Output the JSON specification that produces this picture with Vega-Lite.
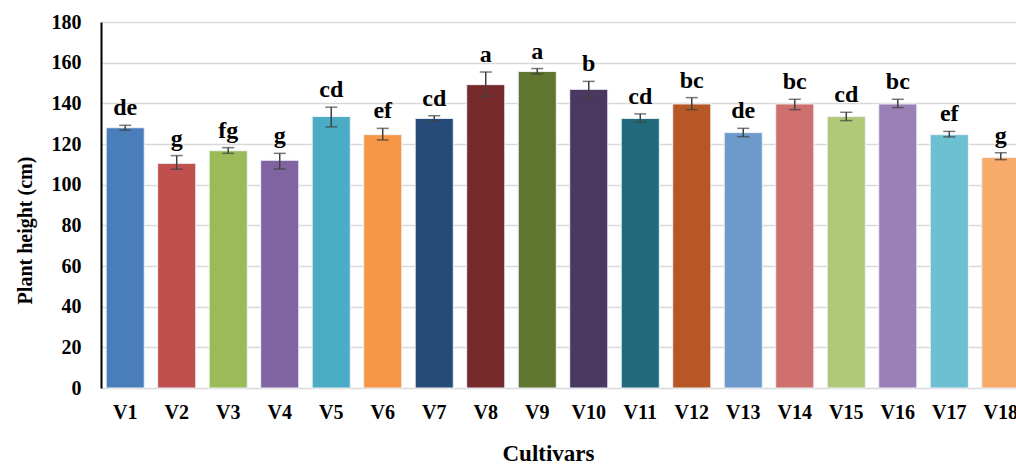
{
  "$schema": "https://vega.github.io/schema/vega-lite/v6.json",
  "autosize": {"type": "none"},
  "padding": {"left": 101, "top": 22, "right": 0, "bottom": 79},
  "width": 924,
  "height": 366,
  "background": "white",
  "config": {
    "view": {"stroke": null},
    "font": "Liberation Serif"
  },
  "data": {
    "values": [
      {"cultivar": "V1", "mean": 128.0, "lo": 126.8, "hi": 129.2, "group": "de"},
      {"cultivar": "V2", "mean": 110.5, "lo": 107.6, "hi": 114.3, "group": "g"},
      {"cultivar": "V3", "mean": 116.7, "lo": 115.4, "hi": 118.2, "group": "fg"},
      {"cultivar": "V4", "mean": 112.0, "lo": 107.7, "hi": 115.4, "group": "g"},
      {"cultivar": "V5", "mean": 133.5, "lo": 128.4, "hi": 138.1, "group": "cd"},
      {"cultivar": "V6", "mean": 124.6, "lo": 122.0, "hi": 127.7, "group": "ef"},
      {"cultivar": "V7", "mean": 132.6, "lo": 131.5, "hi": 133.9, "group": "cd"},
      {"cultivar": "V8", "mean": 149.2, "lo": 143.5, "hi": 155.4, "group": "a"},
      {"cultivar": "V9", "mean": 155.7, "lo": 154.4, "hi": 157.1, "group": "a"},
      {"cultivar": "V10", "mean": 146.9, "lo": 142.6, "hi": 150.8, "group": "b"},
      {"cultivar": "V11", "mean": 132.6, "lo": 130.7, "hi": 134.8, "group": "cd"},
      {"cultivar": "V12", "mean": 139.7, "lo": 136.9, "hi": 142.8, "group": "bc"},
      {"cultivar": "V13", "mean": 125.6, "lo": 123.6, "hi": 127.7, "group": "de"},
      {"cultivar": "V14", "mean": 139.7, "lo": 136.9, "hi": 142.0, "group": "bc"},
      {"cultivar": "V15", "mean": 133.5, "lo": 131.5, "hi": 135.6, "group": "cd"},
      {"cultivar": "V16", "mean": 139.7, "lo": 137.9, "hi": 142.0, "group": "bc"},
      {"cultivar": "V17", "mean": 124.6, "lo": 123.5, "hi": 126.2, "group": "ef"},
      {"cultivar": "V18", "mean": 113.4, "lo": 112.3, "hi": 115.7, "group": "g"}
    ]
  },
  "encoding": {
    "x": {
      "field": "cultivar",
      "type": "nominal",
      "sort": null,
      "scale": {"paddingInner": 0.26, "paddingOuter": 0.1},
      "axis": {
        "title": "Cultivars",
        "titleFont": "Liberation Serif",
        "titleFontSize": 23,
        "titleFontWeight": "bold",
        "titleColor": "#000000",
        "titleX": 447,
        "titleY": 72,
        "titleBaseline": "alphabetic",
        "labelAngle": 0,
        "labelFont": "Liberation Serif",
        "labelFontSize": 20,
        "labelFontWeight": "bold",
        "labelColor": "#000000",
        "labelPadding": 14,
        "ticks": false,
        "domain": false,
        "grid": false
      }
    }
  },
  "layer": [
    {
      "mark": {"type": "bar", "stroke": "#eef2f8", "strokeWidth": 1},
      "encoding": {
        "y": {
          "field": "mean",
          "type": "quantitative",
          "title": "Plant height (cm)",
          "scale": {"domain": [0, 180], "nice": false},
          "axis": {
            "values": [0, 20, 40, 60, 80, 100, 120, 140, 160, 180],
            "title": "Plant height (cm)",
            "titleFont": "Liberation Serif",
            "titleFontSize": 20,
            "titleFontWeight": "bold",
            "titleColor": "#000000",
            "titleAngle": -90,
            "titleX": -76,
            "titleY": 208,
            "titleAlign": "center",
            "titleBaseline": "middle",
            "labelFont": "Liberation Serif",
            "labelFontSize": 20,
            "labelFontWeight": "bold",
            "labelColor": "#000000",
            "labelPadding": 20,
            "ticks": false,
            "domainColor": "#000000",
            "domainWidth": 2,
            "gridColor": "#d9d9d9",
            "gridWidth": 1.5
          }
        },
        "color": {
          "field": "cultivar",
          "type": "nominal",
          "legend": null,
          "scale": {
            "domain": ["V1","V2","V3","V4","V5","V6","V7","V8","V9","V10","V11","V12","V13","V14","V15","V16","V17","V18"],
            "range": ["#4A7EBB","#C0504D","#9BBB59","#8064A2","#4BACC6","#F79646","#264B78","#772A2A","#5F7530","#4B3860","#216A7C","#B65725","#6E99CB","#CF6F6E","#B0C979","#9A80B6","#6DBFD2","#F8AA6A"]
          }
        }
      }
    },
    {
      "mark": {"type": "errorbar", "ticks": {"size": 12, "color": "#404040", "thickness": 1.5}, "rule": {"color": "#404040", "strokeWidth": 1.5}},
      "encoding": {
        "y": {"field": "lo", "type": "quantitative", "title": "Plant height (cm)"},
        "y2": {"field": "hi"}
      }
    },
    {
      "mark": {"type": "text", "font": "Liberation Serif", "fontSize": 24, "fontWeight": "bold", "color": "#000000", "baseline": "alphabetic", "dy": -10},
      "encoding": {
        "y": {"field": "hi", "type": "quantitative", "title": "Plant height (cm)"},
        "text": {"field": "group"}
      }
    }
  ]
}
